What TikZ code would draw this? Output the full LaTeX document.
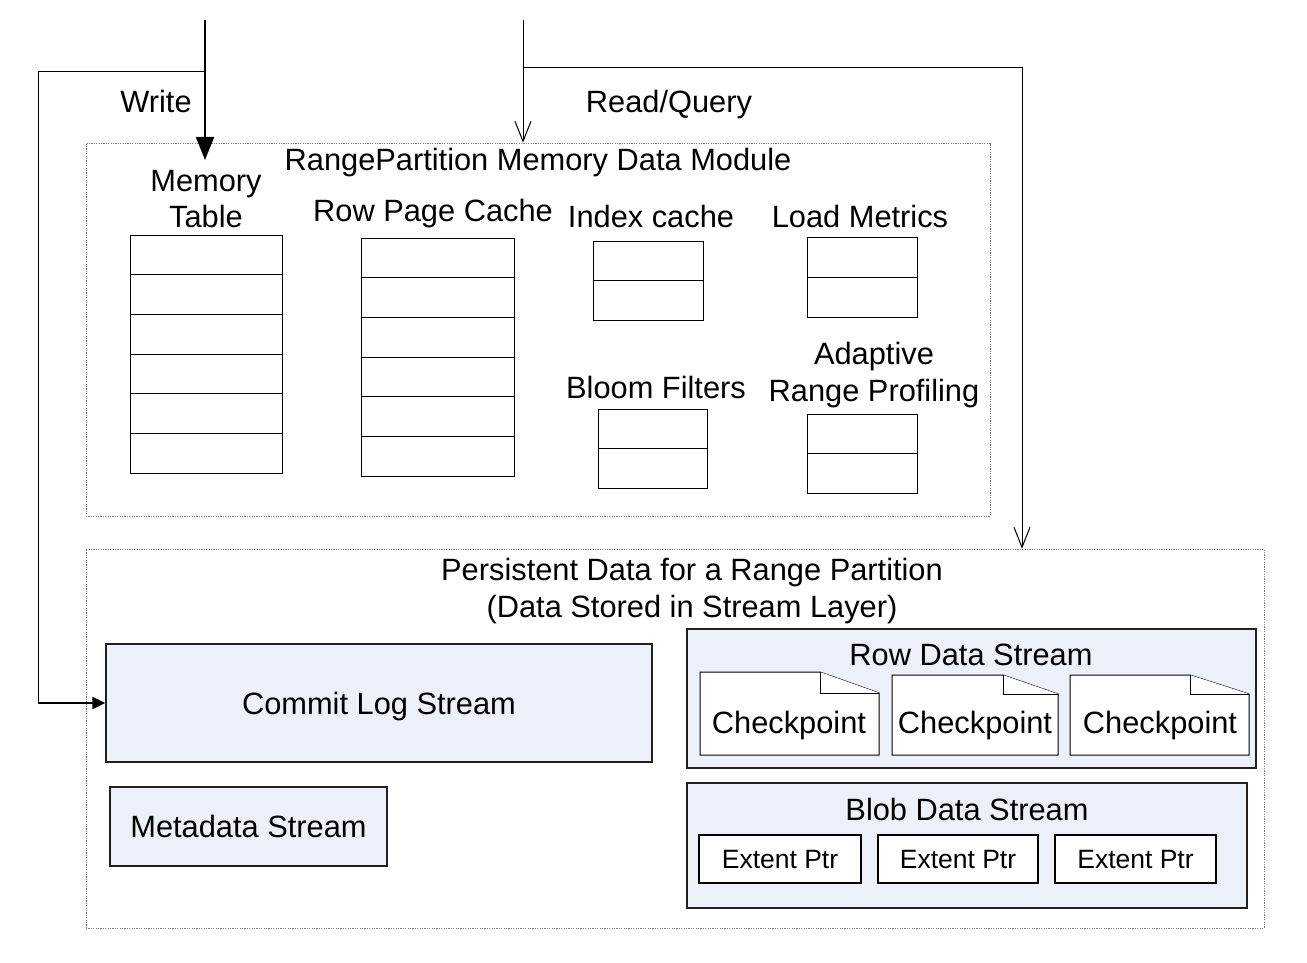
\documentclass[tikz,border=0pt]{standalone}
\usepackage{fontspec}
\setmainfont{Liberation Sans}
\usetikzlibrary{arrows.meta}
\definecolor{streamfill}{RGB}{235,240,249}
\definecolor{streamedge}{RGB}{35,31,32}
\definecolor{dotgray}{RGB}{120,120,120}
\begin{document}
\begin{tikzpicture}[x=1pt,y=-1pt,
  lbl/.style={font=\fontsize{30.8}{36.5}\selectfont, inner sep=0pt, anchor=base},
  lbltwo/.style={font=\fontsize{30.8}{36.5}\selectfont, inner sep=0pt, align=center},
  module/.style={draw=dotgray, line width=0.7pt, dash pattern=on 1.2pt off 1.2pt, inner sep=0pt},
  cell/.style={draw=black, line width=1pt},
  tbl/.style={draw=black, line width=1pt, inner sep=0pt},
  stream/.style={draw=streamedge, fill=streamfill, line width=1.3pt, inner sep=0pt,
    font=\fontsize{30.8}{36}\selectfont, text height=22pt, text depth=0pt},
  ptr/.style={draw=black, line width=2pt, fill=white, inner sep=0pt,
    font=\fontsize{26.5}{30}\selectfont, text height=19pt, text depth=0pt},
  doc/.style={draw=black, line width=1pt, fill=white},
  thinline/.style={draw=black, line width=1pt},
  thickline/.style={draw=black, line width=2pt},
]
\useasboundingbox (0,0) rectangle (1307,963);

% modules
\node[module, minimum width=904pt, minimum height=373pt] (memmod) at (538,329.5) {};
\node[module, minimum width=1178pt, minimum height=379pt] (pers) at (675,738.5) {};

% labels
\node[lbl] (write) at (156,113) {Write};
\node[lbl] (read) at (669,113) {Read/Query};
\node[lbl] (memtitle) at (538,171) {RangePartition Memory Data Module};
\node[lbltwo] (mtlabel) at (206,199) {Memory\\Table};
\node[lbl] (rpclabel) at (433,222) {Row Page Cache};
\node[lbl] (iclabel) at (651,227) {Index cache};
\node[lbl] (lmlabel) at (860,227) {Load Metrics};
\node[lbl] (bflabel) at (656,398) {Bloom Filters};
\node[lbltwo] (arplabel) at (874,375) {Adaptive\\Range Profiling};
\node[lbltwo] (perstitle) at (692,591) {Persistent Data for a Range Partition\\(Data Stored in Stream Layer)};

% memory tables
\node[tbl, minimum width=152pt, minimum height=238pt] (mtab) at (206,354) {};
\foreach \k in {1,...,5} \draw[cell] (130,{235+\k*238/6}) -- (282,{235+\k*238/6});
\node[tbl, minimum width=153pt, minimum height=238pt] (rpc) at (437.5,357) {};
\foreach \k in {1,...,5} \draw[cell] (361,{238+\k*238/6}) -- (514,{238+\k*238/6});
\node[tbl, minimum width=110pt, minimum height=79pt] (ic) at (648,280.5) {};
\draw[cell] (ic.west) -- (ic.east);
\node[tbl, minimum width=110pt, minimum height=80pt] (lm) at (862,277) {};
\draw[cell] (lm.west) -- (lm.east);
\node[tbl, minimum width=109pt, minimum height=79pt] (bf) at (652.5,448.5) {};
\draw[cell] (bf.west) -- (bf.east);
\node[tbl, minimum width=110pt, minimum height=79pt] (arp) at (862,453.5) {};
\draw[cell] (arp.west) -- (arp.east);

% persistent streams
\node[stream, minimum width=546pt, minimum height=118pt] (commit) at (379,703) {Commit Log Stream};
\node[stream, minimum width=277pt, minimum height=79pt] (meta) at (248.5,826.5) {Metadata Stream};
\node[stream, minimum width=569pt, minimum height=139pt] (rowds) at (971.5,698.5) {};
\node[lbl] (rowtitle) at (971,665) {Row Data Stream};
\node[stream, minimum width=560pt, minimum height=125pt] (blobds) at (967,845.5) {};
\node[lbl] (blobtitle) at (967,820) {Blob Data Stream};

% checkpoints
\draw[doc] (700,672) -- (820,672) -- (879,693) -- (879,755) -- (700,755) -- cycle;
\draw[doc] (820,672) -- (820,693) -- (879,693);
\draw[doc] (892,675) -- (1003,675) -- (1058,694) -- (1058,755) -- (892,755) -- cycle;
\draw[doc] (1003,675) -- (1003,694) -- (1058,694);
\draw[doc] (1070,675) -- (1190,675) -- (1249,694) -- (1249,755) -- (1070,755) -- cycle;
\draw[doc] (1190,675) -- (1190,694) -- (1249,694);
\node[lbl] (cp1) at (789,733) {Checkpoint};
\node[lbl] (cp2) at (975,733) {Checkpoint};
\node[lbl] (cp3) at (1160,733) {Checkpoint};

% extent pointers
\node[ptr, minimum width=162pt, minimum height=48pt] (ep1) at (780,859) {Extent Ptr};
\node[ptr, minimum width=160pt, minimum height=48pt] (ep2) at (958,859) {Extent Ptr};
\node[ptr, minimum width=161pt, minimum height=48pt] (ep3) at (1135.5,859) {Extent Ptr};

% write path
\coordinate (wtop) at (205,20);
\coordinate (wsplit) at (205,72);
\coordinate (wtip) at (205,160);
\coordinate (wcorner) at (38,72);
\draw[thickline, -{Triangle[length=23pt,width=18pt]}] (wtop) -- (wtip);
\draw[thinline] (wsplit) -- (wcorner) -- (wcorner |- commit.west);
\draw[thickline, -{Triangle[length=13pt,width=12pt]}] (wcorner |- commit.west) -- (commit.west);

% read path
\coordinate (rtop) at (523,20);
\coordinate (rsplit) at (523,68);
\coordinate (rcorner) at (1022,68);
\draw[thinline, -{Straight Barb[length=20pt,width=16pt,line width=1pt]}] (rtop) -- (rtop |- memmod.north);
\draw[thinline, -{Straight Barb[length=20pt,width=16pt,line width=1pt]}] (rsplit) -- (rcorner) -- (rcorner |- pers.north);
\end{tikzpicture}
\end{document}
